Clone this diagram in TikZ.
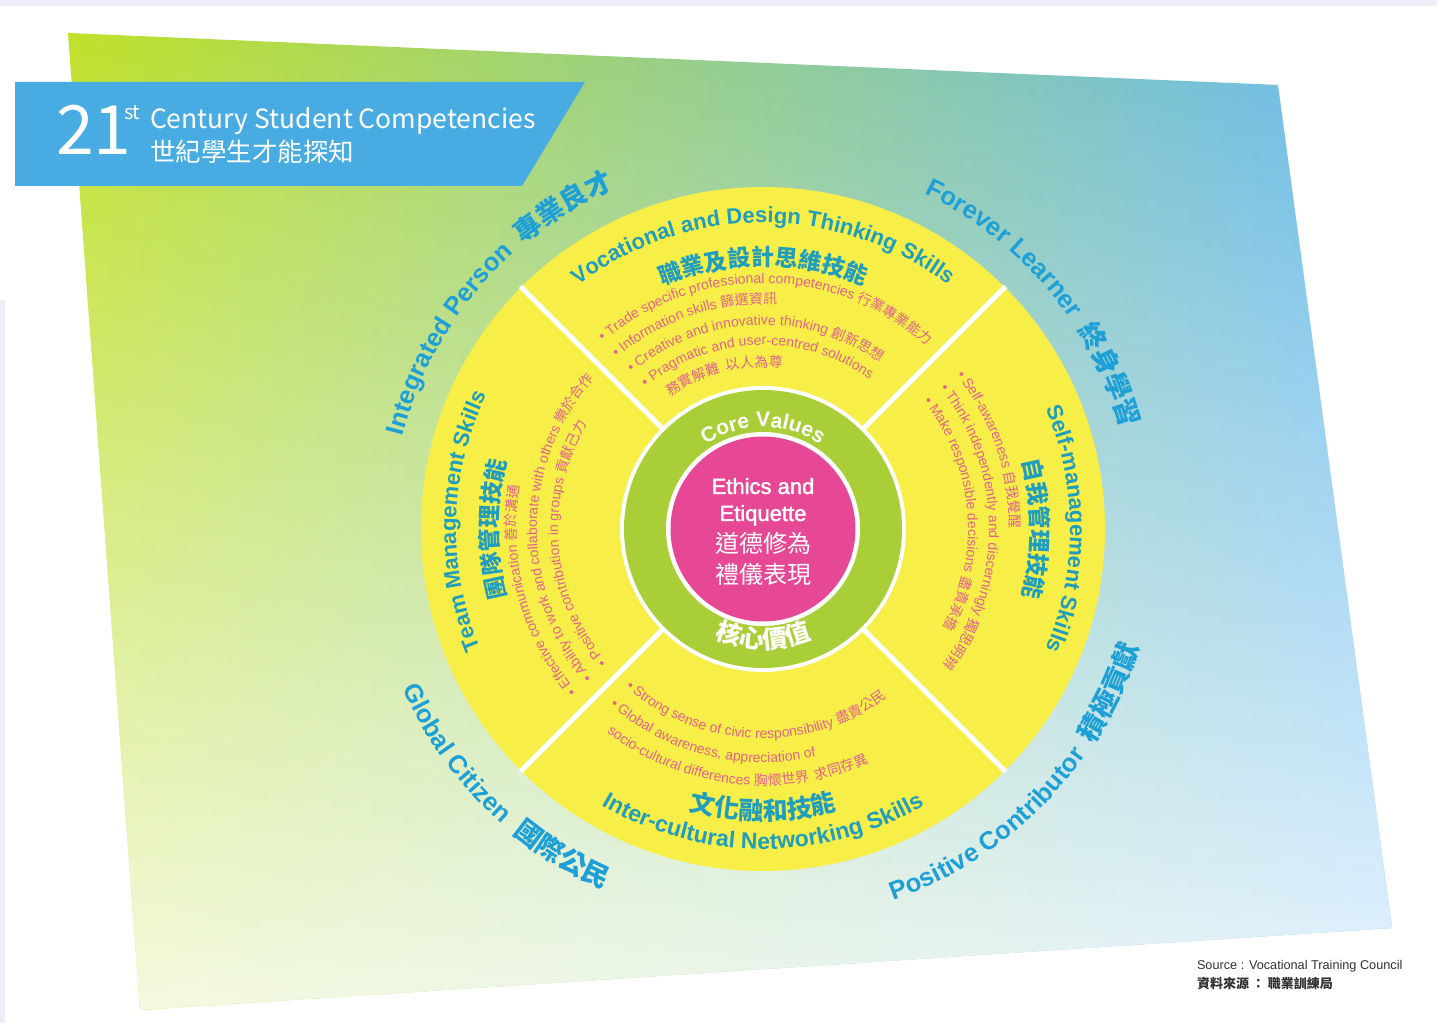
\documentclass[tikz,border=0pt]{standalone}
\usepackage{fontspec}
\usetikzlibrary{decorations.text,fadings}
\setmainfont{Liberation Sans}
\newfontfamily\latf{Liberation Sans}
\newfontface\latm{Liberation Sans}[FakeBold=1.6]
\newfontfamily\cjkf{Noto Sans CJK TC}
\newfontfamily\srcf{Noto Sans CJK TC}

\definecolor{lav}{RGB}{238,238,248}
\definecolor{gL}{RGB}{192,225,40}
\definecolor{gM}{RGB}{160,213,184}
\definecolor{gR}{RGB}{100,184,244}
\definecolor{ban}{RGB}{72,172,226}
\definecolor{outerC}{RGB}{30,160,215}
\definecolor{headC}{RGB}{32,158,188}
\definecolor{bulC}{RGB}{226,100,140}
\definecolor{yel}{RGB}{248,238,72}
\definecolor{grn}{RGB}{170,206,56}
\definecolor{pnk}{RGB}{230,72,150}
\definecolor{srcC}{RGB}{50,50,50}

\tikzfading[name=paleup, top color=transparent!100, bottom color=transparent!15]

\newcommand\fmtOut{\latf\bfseries\fontsize{25.5}{30}\selectfont\color{outerC}}
\newcommand\fmtOutC{\cjkf\bfseries\fontsize{27}{30}\selectfont\color{outerC}}
\newcommand\fmtHd{\latf\bfseries\fontsize{22}{26}\selectfont\color{headC}}
\newcommand\fmtHdB{\latf\bfseries\fontsize{23}{26}\selectfont\color{headC}}
\newcommand\fmtHdC{\cjkf\bfseries\fontsize{23}{26}\selectfont\color{headC}}
\newcommand\fmtHdCB{\cjkf\bfseries\fontsize{25}{26}\selectfont\color{headC}}
\newcommand\fmtB{\latf\fontsize{14}{16}\selectfont\color{bulC}}
\newcommand\fmtBC{\cjkf\fontsize{14}{16}\selectfont\color{bulC}}
\newcommand\fmtCV{\latf\bfseries\fontsize{21}{24}\selectfont\color{white}}
\newcommand\fmtCVC{\cjkf\bfseries\fontsize{25}{28}\selectfont\color{white}}

\tikzset{
  ctext/.style={decorate, decoration={text along path, text align=center, text={#1}}},
  ltext/.style={decorate, decoration={text along path, text align=left, text={#1}}},
  divider/.style={white, line width=5pt},
  plain/.style={inner sep=0pt, outer sep=0pt},
}

\begin{document}
\begin{tikzpicture}[x=1pt,y=1pt]
\useasboundingbox (0,0) rectangle (1437,1023);
% paper
\fill[lav] (0,0) rectangle (1437,1023);
\fill[white] (5,0) rectangle (1437,1017);
\fill[white] (0,723) rectangle (5,1017);
% gradient sheet
\begin{scope}
  \clip (68,990) -- (1278,938) -- (1392,95) -- (140,13) -- cycle;
  \shade[left color=gL, middle color=gM, right color=gR] (60,10) rectangle (1400,995);
  \fill[white, path fading=paleup, fit fading=true] (60,10) rectangle (1400,995);
\end{scope}
% banner
\fill[ban] (15,941) -- (585,941) -- (522,837) -- (15,837) -- cycle;
\node[plain, anchor=base west, text=white, font=\srcf\fontsize{68}{68}\selectfont] (t21) at (56,868) {21};
\node[plain, anchor=base west, text=white, font=\srcf\fontsize{20}{20}\selectfont] (tst) at (124,903) {st};
\node[plain, anchor=base west, text=white, font=\srcf\fontsize{26.5}{28}\selectfont] (tcen) at (150,894) {Century Student Competencies};
\node[plain, anchor=base west, text=white, font=\srcf\fontsize{25.5}{26}\selectfont] (tzh) at (150,861) {世紀學生才能探知};

% wheel
\coordinate (O) at (763,494);
\fill[yel] (O) circle[radius=342pt];
\fill[white] (O) circle[radius=143pt];
\fill[grn] (O) circle[radius=139pt];
\fill[white] (O) circle[radius=97pt];
\fill[pnk] (O) circle[radius=92.5pt];
\foreach \a in {45,135,225,315}{
  \draw[divider] ([shift={(\a:141pt)}]O) -- ([shift={(\a:343pt)}]O);
}

% outer labels
\path[ctext={|\fmtOut|Integrated Person |\fmtOutC|{\ }專業良才}] ([shift={(189.5:372pt)}]O) arc[start angle=189.5, end angle=89.5, radius=372pt];
\path[ctext={|\fmtOut|Forever Learner |\fmtOutC|{\ }終身學習}] ([shift={(90:372pt)}]O) arc[start angle=90, end angle=-10, radius=372pt];
\path[ctext={|\fmtOut|Global Citizen |\fmtOutC|{\ }國際公民}] ([shift={(175:394pt)}]O) arc[start angle=175, end angle=275, radius=394pt];
\path[ctext={|\fmtOut|Positive Contributor |\fmtOutC|{\ }積極貢獻}] ([shift={(266:394pt)}]O) arc[start angle=266, end angle=366, radius=394pt];

% headings
\path[ctext={|\fmtHd|Vocational and Design Thinking Skills}] ([shift={(165:306pt)}]O) arc[start angle=165, end angle=15, radius=306pt];
\path[ctext={|\fmtHdC|職業及設計思維技能}] ([shift={(150:263pt)}]O) arc[start angle=150, end angle=30, radius=263pt];
\path[ctext={|\fmtHd|Team Management Skills}] ([shift={(238.5:307pt)}]O) arc[start angle=238.5, end angle=118.5, radius=307pt];
\path[ctext={|\fmtHdC|團隊管理技能}] ([shift={(230:265pt)}]O) arc[start angle=230, end angle=130, radius=265pt];
\path[ctext={|\fmtHd|Self-management Skills}] ([shift={(60:307pt)}]O) arc[start angle=60, end angle=-60, radius=307pt];
\path[ctext={|\fmtHdC|自我管理技能}] ([shift={(50:268pt)}]O) arc[start angle=50, end angle=-50, radius=268pt];
\path[ctext={|\fmtHdB|Inter-cultural Networking Skills}] ([shift={(210:320pt)}]O) arc[start angle=210, end angle=330, radius=320pt];
\path[ctext={|\fmtHdCB|文化融和技能}] ([shift={(220:291pt)}]O) arc[start angle=220, end angle=320, radius=291pt];

% top bullets
\path[ltext={|\fmtB|• Trade specific professional competencies |\fmtBC|行業專業能力}] ([shift={(130.5:246pt)}]O) arc[start angle=130.5, end angle=20, radius=246pt];
\path[ltext={|\fmtB|• Information skills |\fmtBC|篩選資訊}] ([shift={(130.5:225pt)}]O) arc[start angle=130.5, end angle=20, radius=225pt];
\path[ltext={|\fmtB|• Creative and innovative thinking |\fmtBC|創新思想}] ([shift={(130:204pt)}]O) arc[start angle=130, end angle=20, radius=204pt];
\path[ltext={|\fmtB|• Pragmatic and user-centred solutions}] ([shift={(129.5:184pt)}]O) arc[start angle=129.5, end angle=20, radius=184pt];
\path[ltext={|\fmtBC|務實解難{\ \ }以人為尊}] ([shift={(125:162pt)}]O) arc[start angle=125, end angle=40, radius=162pt];

% left bullets
\path[ltext={|\fmtB|• Effective communication |\fmtBC|善於溝通}] ([shift={(221:247pt)}]O) arc[start angle=221, end angle=120, radius=247pt];
\path[ltext={|\fmtB|• Ability to work and collaborate with others |\fmtBC|樂於合作}] ([shift={(221:226pt)}]O) arc[start angle=221, end angle=120, radius=226pt];
\path[ltext={|\fmtB|• Positive contribution in groups |\fmtBC|貢獻己力}] ([shift={(220.5:205pt)}]O) arc[start angle=220.5, end angle=120, radius=205pt];

% right bullets
\path[ltext={|\fmtB|• Self-awareness |\fmtBC|自我覺醒}] ([shift={(38.5:247pt)}]O) arc[start angle=38.5, end angle=-60, radius=247pt];
\path[ltext={|\fmtB|• Think independently and discerningly |\fmtBC|獨思明辨}] ([shift={(38.5:226pt)}]O) arc[start angle=38.5, end angle=-60, radius=226pt];
\path[ltext={|\fmtB|• Make responsible decisions |\fmtBC|盡責承擔}] ([shift={(38.5:205pt)}]O) arc[start angle=38.5, end angle=-60, radius=205pt];

% bottom bullets
\path[ltext={|\fmtB|• Strong sense of civic responsibility |\fmtBC|盡責公民}] ([shift={(229:209.5pt)}]O) arc[start angle=229, end angle=330, radius=209.5pt];
\path[ltext={|\fmtB|• Global awareness, appreciation of}] ([shift={(229:233.5pt)}]O) arc[start angle=229, end angle=330, radius=233.5pt];
\path[ltext={|\fmtB|socio-cultural differences |\fmtBC|胸懷世界{\ \ }求同存異}] ([shift={(232.5:256.5pt)}]O) arc[start angle=232.5, end angle=330, radius=256.5pt];

% core values
\path[ctext={|\fmtCV|Core Values}] ([shift={(170:102pt)}]O) arc[start angle=170, end angle=10, radius=102pt];
\path[ctext={|\fmtCVC|核心價值}] ([shift={(200:119.5pt)}]O) arc[start angle=200, end angle=340, radius=119.5pt];

% centre
\node[plain, anchor=base, text=white, font=\latm\fontsize{22}{24}\selectfont] (e1) at (763,529) {Ethics and};
\node[plain, anchor=base, text=white, font=\latm\fontsize{22}{24}\selectfont] (e2) at (763,502) {Etiquette};
\node[plain, anchor=base, text=white, font=\cjkf\fontsize{24}{26}\selectfont] (e3) at (763,470) {道德修為};
\node[plain, anchor=base, text=white, font=\cjkf\fontsize{24}{26}\selectfont] (e4) at (763,439) {禮儀表現};

% source
\node[plain, anchor=base west, text=srcC, font=\latf\fontsize{12.7}{13}\selectfont] (s1) at (1197,54) {Source : Vocational Training Council};
\node[plain, anchor=base west, text=srcC, font=\cjkf\bfseries\fontsize{13}{13}\selectfont] (s2) at (1197,35) {資料來源 ： 職業訓練局};
\end{tikzpicture}
\end{document}
